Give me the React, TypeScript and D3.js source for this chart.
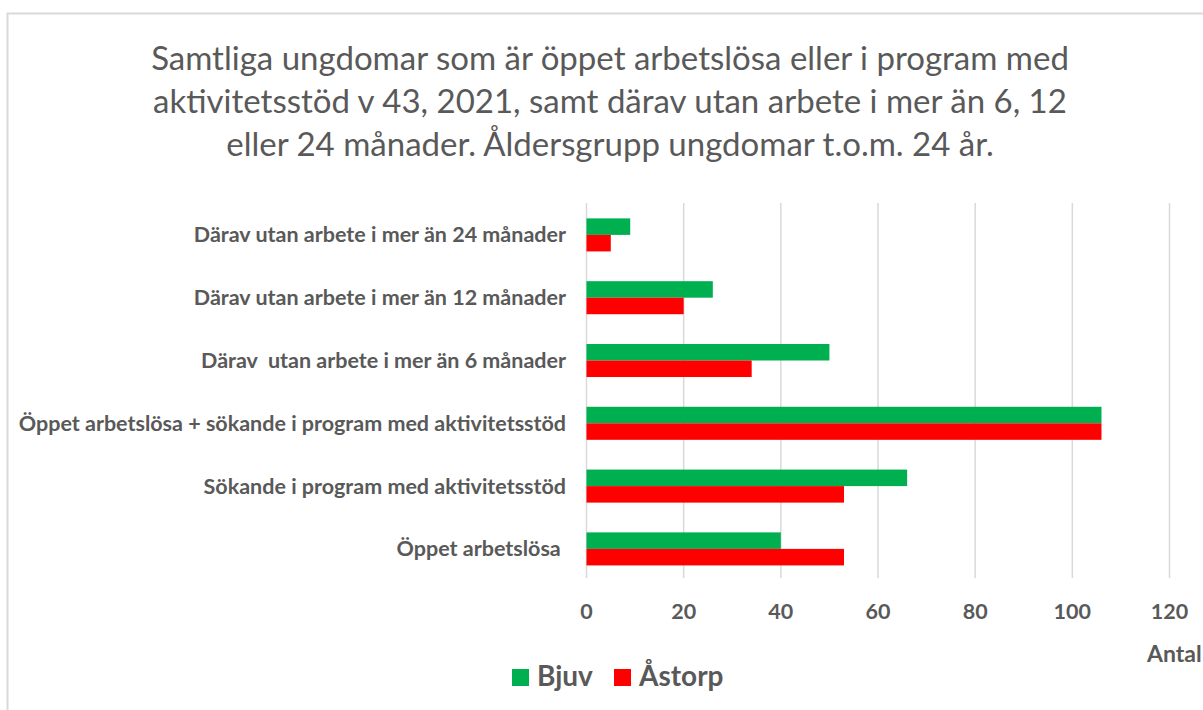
import React from "react";
import * as d3 from "d3";

const categories = [
  "Därav utan arbete i mer än 24 månader",
  "Därav utan arbete i mer än 12 månader",
  "Därav  utan arbete i mer än 6 månader",
  "Öppet arbetslösa + sökande i program med aktivitetsstöd",
  "Sökande i program med aktivitetsstöd",
  "Öppet arbetslösa ",
];
const seriesNames = ["Bjuv", "Åstorp"];
const bjuv = [9, 26, 50, 106, 66, 40];
const astorp = [5, 20, 34, 106, 53, 53];
const xTicks = [0, 20, 40, 60, 80, 100, 120];
const titleLines = [
  "Samtliga ungdomar som är öppet arbetslösa eller i program med",
  "aktivitetsstöd v 43, 2021, samt därav utan arbete i mer än 6, 12",
  "eller 24 månader. Åldersgrupp ungdomar t.o.m. 24 år.",
];
const axisTitle = "Antal";

const colors = ["#00b050", "#ff0000"];
const textColor = "#595959";
const gridColor = "#d9d9d9";
const font = "Lato, 'Open Sans', sans-serif";

export default function App() {
  const W = 1203;
  const H = 710;
  const x = d3.scaleLinear().domain([0, 120]).range([586.5, 1169.5]);
  const y = d3
    .scaleBand<string>()
    .domain(categories)
    .range([203.5, 580.3])
    .paddingInner(0.474)
    .paddingOuter(0.237);
  const ySub = d3
    .scaleBand<string>()
    .domain(seriesNames)
    .range([0, y.bandwidth()]);
  const values = [bjuv, astorp];

  return (
    <svg
      width={W}
      height={H}
      style={{ position: "absolute", left: 0, top: 0, background: "#fff" }}
      fontFamily={font}
    >
      <rect x={0} y={0} width={W} height={H} fill="#fff" />
      <rect
        x={7.5}
        y={13.5}
        width={W + 20}
        height={H + 20}
        fill="none"
        stroke={gridColor}
        strokeWidth={2}
      />
      {titleLines.map((t, i) => (
        <text
          key={i}
          x={610}
          y={70 + i * 43}
          textAnchor="middle"
          fontSize={33}
          fill={textColor}
        >
          {t}
        </text>
      ))}
      {xTicks.map((t) => (
        <line
          key={t}
          x1={x(t)}
          x2={x(t)}
          y1={203}
          y2={578}
          stroke={gridColor}
          strokeWidth={1.5}
        />
      ))}
      {categories.map((c, ci) =>
        seriesNames.map((s, si) => (
          <rect
            key={c + s}
            x={x(0)}
            y={(y(c) as number) + (ySub(s) as number)}
            width={x(values[si][ci]) - x(0)}
            height={ySub.bandwidth()}
            fill={colors[si]}
          />
        ))
      )}
      {categories.map((c) => (
        <text
          key={c}
          x={566}
          y={(y(c) as number) + y.bandwidth() / 2}
          dy="0.35em"
          textAnchor="end"
          fontSize={21.5}
          fontWeight="bold"
          fill={textColor}
          style={{ whiteSpace: "pre" }}
        >
          {c}
        </text>
      ))}
      {xTicks.map((t) => (
        <text
          key={t}
          x={x(t)}
          y={611}
          dy="0.35em"
          textAnchor="middle"
          fontSize={21.5}
          fontWeight="bold"
          fill={textColor}
        >
          {t}
        </text>
      ))}
      <text
        x={1147}
        y={662}
        fontSize={23}
        fontWeight="bold"
        fill={textColor}
      >
        {axisTitle}
      </text>
      {seriesNames.map((s, i) => {
        const lx = [512, 614][i];
        return (
          <g key={s}>
            <rect x={lx} y={669} width={17} height={17} fill={colors[i]} />
            <text
              x={lx + 25}
              y={686}
              fontSize={28}
              fontWeight="bold"
              fill={textColor}
            >
              {s}
            </text>
          </g>
        );
      })}
    </svg>
  );
}
